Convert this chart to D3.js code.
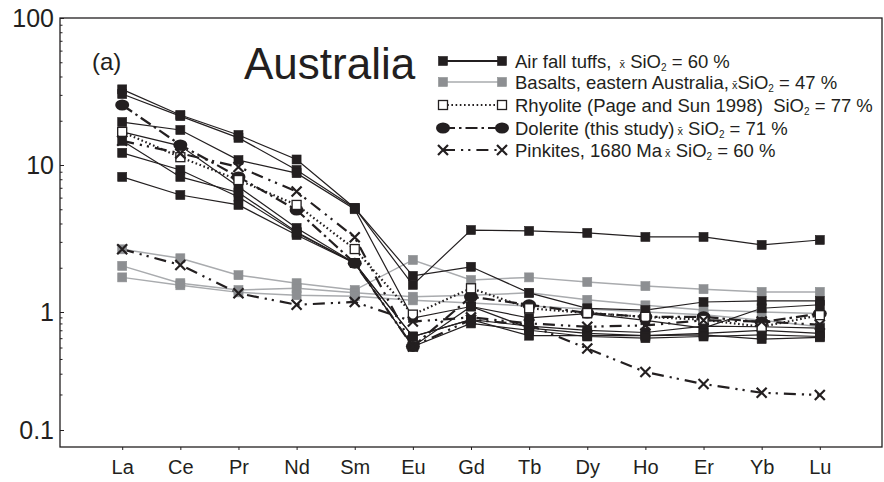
<!DOCTYPE html>
<html><head><meta charset="utf-8">
<script src="https://cdn.jsdelivr.net/npm/d3@7"></script>
<style>
html,body{margin:0;padding:0;background:#fff;}
svg{display:block;font-family:Arial,"Liberation Sans",sans-serif;}
</style></head>
<body><svg id="chart" width="884" height="482"></svg>
<script>
// ---- data ----
const categories = ["La","Ce","Pr","Nd","Sm","Eu","Gd","Tb","Dy","Ho","Er","Yb","Lu"];
const yTickValues = [0.1, 1, 10, 100];
const yTickLabels = ["0.1", "1", "10", "100"];

// Air fall tuffs (black squares)
const tuff1 = [32.7, 21.9, 16.0, 10.9, 5.1, 1.53, 3.61, 3.56, 3.45, 3.24, 3.24, 2.86, 3.09];
const tuff2 = [30.4, 21.5, 15.3, 9.25, 5.1, 1.76, 2.03, 1.35, 1.06, 1.03, 1.17, 1.19, 1.19];
const tuff3 = [19.6, 17.3, 10.8, 8.8, 5.0, 0.89, 1.09, 0.89, 0.97, 0.85, 0.73, 1.06, 1.12];
const tuff4 = [16.8, 13.5, 7.1, 3.73, 2.15, 0.62, 0.86, 0.76, 0.70, 0.67, 0.76, 0.75, 0.73];
const tuff5 = [12.1, 9.25, 6.06, 3.45, 2.15, 0.62, 0.86, 0.63, 0.63, 0.63, 0.64, 0.59, 0.61];
const tuff6 = [8.3, 6.25, 5.35, 3.34, 2.15, 0.51, 1.09, 0.73, 0.66, 0.63, 0.66, 0.70, 0.66];
const tuff7 = [14.6, 8.3, 6.5, 3.5, 2.15, 0.51, 0.80, 0.70, 0.62, 0.60, 0.62, 0.64, 0.62];
// Basalts, eastern Australia (grey squares)
const basalt1 = [2.67, 2.32, 1.78, 1.57, 1.41, 2.26, 1.65, 1.72, 1.60, 1.50, 1.43, 1.37, 1.37];
const basalt2 = [2.06, 1.57, 1.41, 1.45, 1.35, 1.27, 1.30, 1.35, 1.21, 1.11, 1.03, 1.00, 0.97];
const basalt3 = [1.72, 1.52, 1.36, 1.30, 1.28, 1.20, 1.15, 1.10, 1.05, 1.00, 0.95, 0.85, 0.75];
// Rhyolite (Page and Sun 1998) (open squares)
const rhyolite = [16.8, 11.3, 7.9, 5.35, 2.68, 0.95, 1.45, 1.06, 0.98, 0.91, 0.86, 0.75, 0.94];
// Dolerite (this study) (black ellipses)
const dolerite = [25.6, 13.7, 8.3, 4.94, 2.15, 0.51, 1.27, 1.12, 0.98, 0.91, 0.91, 0.82, 0.97];
// Pinkites, 1680 Ma (crosses)
const pinkite1 = [14.6, 12.0, 9.7, 6.6, 3.22, 0.51, 0.86, 0.78, 0.49, 0.31, 0.245, 0.207, 0.198];
const pinkite2 = [2.67, 2.09, 1.34, 1.12, 1.17, 0.83, 0.90, 0.80, 0.75, 0.77, 0.85, 0.83, 0.78];

const legendLabels = [
  ["Air fall tuffs, ", "xbar", " SiO", "sub2", " = 60 %"],
  ["Basalts, eastern Australia,", "xbar", "SiO", "sub2", " = 47 %"],
  ["Rhyolite (Page and Sun 1998)\u00A0 SiO", "sub2", " = 77 %"],
  ["Dolerite (this study)", "xbar", " SiO", "sub2", " = 71 %"],
  ["Pinkites, 1680 Ma", "xbar", " SiO", "sub2", " = 60 %"]
];

// ---- styles ----
const INK = "#231f20";
const styles = {
  tuff:     {line: INK, width: 1.2, dash: null, marker: "square", fill: INK, stroke: INK},
  basalt:   {line: "#a9abae", width: 1.5, dash: null, marker: "square", fill: "#8d8f92", stroke: "#8d8f92"},
  rhyolite: {line: INK, width: 2.2, dash: "1.6,2.6", marker: "square", fill: "#fff", stroke: INK},
  dolerite: {line: INK, width: 2.2, dash: "12,4,2.5,4", marker: "ellipse", fill: INK, stroke: INK},
  pinkite:  {line: INK, width: 2.2, dash: "12,6,2.2,5,2.2,6", marker: "cross", fill: "none", stroke: INK}
};

const series = [
  {key: "basalt", data: basalt1}, {key: "basalt", data: basalt2}, {key: "basalt", data: basalt3},
  {key: "tuff", data: tuff1}, {key: "tuff", data: tuff2}, {key: "tuff", data: tuff3},
  {key: "tuff", data: tuff4}, {key: "tuff", data: tuff5}, {key: "tuff", data: tuff6}, {key: "tuff", data: tuff7},
  {key: "dolerite", data: dolerite},
  {key: "rhyolite", data: rhyolite},
  {key: "pinkite", data: pinkite1}, {key: "pinkite", data: pinkite2}
];
const legendKeys = ["tuff", "basalt", "rhyolite", "dolerite", "pinkite"];

// ---- layout ----
const L = 60, R = 882, T = 18, B = 447;
const svg = d3.select("#chart");
const x = d3.scalePoint().domain(categories).range([L, R]).padding(1.07);
const y = d3.scaleLog().domain(yTickValues).range([430, 312, 165, 18]);

// axes
const minor = [];
[0.1, 1, 10].forEach(d => { for (let k = 2; k <= 9; k++) minor.push(d * k); });
svg.append("g").attr("transform", `translate(${L},0)`)
  .call(d3.axisLeft(y).tickValues(minor).tickSize(-2.5).tickFormat(""))
  .call(g => g.select(".domain").remove())
  .call(g => g.selectAll("text").remove())
  .call(g => g.selectAll("line").attr("stroke", INK).attr("stroke-width", 1));
svg.append("g").attr("transform", `translate(${L},0)`)
  .call(d3.axisLeft(y).tickValues(yTickValues).tickSize(-4).tickPadding(6)
    .tickFormat((d, i) => yTickLabels[i]))
  .call(g => g.select(".domain").remove())
  .call(g => g.selectAll("line").attr("stroke", INK))
  .call(g => g.selectAll("text").attr("font-size", 25).attr("fill", INK)
    .attr("font-family", "Arial, 'Liberation Sans', sans-serif"));
svg.append("g").attr("transform", `translate(0,${B})`)
  .call(d3.axisBottom(x).tickSize(3).tickPadding(10))
  .call(g => g.select(".domain").remove())
  .call(g => g.selectAll("line").attr("stroke", INK))
  .call(g => g.selectAll("text").attr("font-size", 20).attr("fill", INK)
    .attr("font-family", "Arial, 'Liberation Sans', sans-serif"));

// frame
svg.append("rect").attr("x", L).attr("y", T).attr("width", R - L).attr("height", B - T)
  .attr("fill", "none").attr("stroke", INK).attr("stroke-width", 1.3);

// titles
svg.append("text").attr("x", 92).attr("y", 70).attr("font-size", 24).attr("fill", INK).text("(a)");
svg.append("text").attr("x", 244).attr("y", 79).attr("font-size", 44).attr("fill", INK).text("Australia");

// marker drawing
function drawMarker(g, type, st, cx, cy) {
  if (type === "square") {
    g.append("rect").attr("x", cx - 4.5).attr("y", cy - 4.5).attr("width", 9).attr("height", 9)
      .attr("fill", st.fill).attr("stroke", st.stroke).attr("stroke-width", st.fill === "#fff" ? 1.3 : 0.6);
  } else if (type === "ellipse") {
    g.append("ellipse").attr("cx", cx).attr("cy", cy).attr("rx", 7).attr("ry", 5.5).attr("fill", st.fill);
  } else if (type === "cross") {
    const s = 5;
    g.append("path").attr("d", `M${cx - s},${cy - s}L${cx + s},${cy + s}M${cx - s},${cy + s}L${cx + s},${cy - s}`)
      .attr("stroke", st.stroke).attr("stroke-width", 2.2).attr("fill", "none");
  }
}

const line = d3.line().x((d, i) => x(categories[i])).y(d => y(d));
const plot = svg.append("g");
series.forEach(s => {
  const st = styles[s.key];
  plot.append("path").attr("d", line(s.data)).attr("fill", "none")
    .attr("stroke", st.line).attr("stroke-width", st.width)
    .attr("stroke-dasharray", st.dash);
});
const markG = svg.append("g");
series.forEach(s => {
  const st = styles[s.key];
  s.data.forEach((v, i) => drawMarker(markG, st.marker, st, x(categories[i]), y(v)));
});

// legend
const legY = [61, 82, 105, 128, 150];
const lg = svg.append("g");
legendKeys.forEach((k, r) => {
  const st = styles[k];
  const yy = legY[r];
  lg.append("line").attr("x1", 443).attr("x2", 502).attr("y1", yy).attr("y2", yy)
    .attr("stroke", st.line).attr("stroke-width", k === "tuff" ? 2 : st.width)
    .attr("stroke-dasharray", st.dash);
  drawMarker(lg, st.marker, st, 443, yy);
  drawMarker(lg, st.marker, st, 502, yy);
  const t = lg.append("text").attr("x", 515).attr("y", yy + 6.5).attr("font-size", 18.5).attr("fill", INK)
    .style("white-space", "pre");
  let shiftBack = false;
  legendLabels[r].forEach(part => {
    if (part === "xbar") {
      const ts = t.append("tspan").attr("font-size", 11).text(" x\u0304");
      if (shiftBack) { ts.attr("dy", -3); shiftBack = false; }
    } else if (part === "sub2") {
      t.append("tspan").attr("font-size", 10).attr("dy", 3).text("2");
      shiftBack = true;
    } else {
      const ts = t.append("tspan").text(part);
      if (shiftBack) { ts.attr("dy", -3); shiftBack = false; }
    }
  });
});
</script>
</body></html>
